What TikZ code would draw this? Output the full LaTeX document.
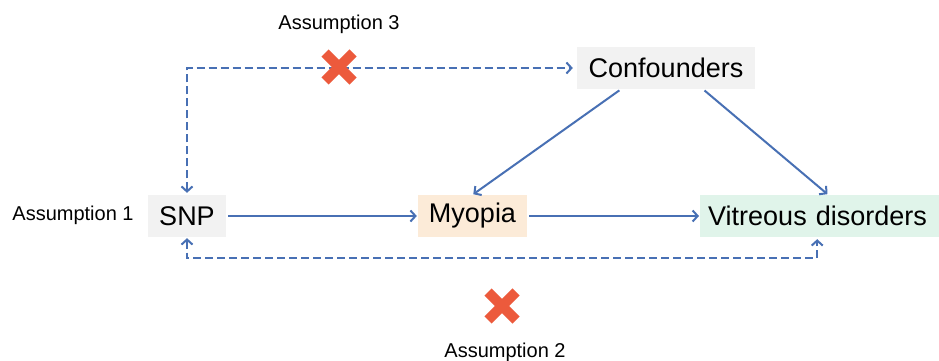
\documentclass[tikz,border=0pt]{standalone}
\usepackage{fontspec}
\setmainfont{Liberation Sans}
\usetikzlibrary{arrows.meta}
\definecolor{lineblue}{RGB}{72,112,180}
\definecolor{boxgrey}{RGB}{242,242,242}
\definecolor{boxpeach}{RGB}{252,235,216}
\definecolor{boxgreen}{RGB}{224,244,234}
\definecolor{xred}{RGB}{236,90,60}
\tikzset{
  mainbox/.style={minimum height=42pt, inner ysep=0pt, font=\fontsize{27}{32}\selectfont, text=black},
  assum/.style={font=\fontsize{20}{24}\selectfont, text=black, inner sep=0pt},
  conn/.style={draw=lineblue, line width=2pt, -{Straight Barb[length=5pt,width=11pt,line width=2pt]}},
  dconn/.style={draw=lineblue, line width=2pt, dash pattern=on 8pt off 4pt,
     {Straight Barb[length=5pt,width=11pt,line width=2pt]}-{Straight Barb[length=5pt,width=11pt,line width=2pt]}},
  crossx/.style={draw=xred, line width=10pt, line cap=butt}
}
\begin{document}
\begin{tikzpicture}[x=1pt,y=-1pt]
\clip (0,0) rectangle (939,361);
\fill[white] (0,0) rectangle (939,361);
\node[mainbox, fill=boxgrey, minimum width=78pt, inner xsep=0pt] (snp) at (187,216) {SNP};
\node[mainbox, fill=boxpeach, minimum width=109pt, inner xsep=0pt] (myo) at (472.5,216) {Myopia};
\node[mainbox, fill=boxgrey, minimum width=178pt, inner xsep=0pt] (conf) at (666,68) {Confounders};
\node[mainbox, fill=boxgreen, anchor=west, text width=229pt, align=left, inner xsep=8pt] (vit) at (700,216) {Vitreous disorders};

\node[assum] (a3) at (339,24) {Assumption 3};
\node[assum] (a1) at (73,215) {Assumption 1};
\node[assum] (a2) at (505,352) {Assumption 2};

\draw[conn, shorten <=2pt, shorten >=1pt] (snp.east) -- (myo.west);
\draw[conn, shorten <=2pt, shorten >=1pt] (myo.east) -- (vit.west);
\draw[conn, shorten <=2pt, shorten >=1pt] ([xshift=-45pt]conf.south) -- (myo.north);
\draw[conn, shorten <=2pt, shorten >=1pt] ([xshift=37pt]conf.south) -- ([xshift=5.5pt]vit.north);

\draw[dconn, shorten <=2pt, shorten >=4pt] (snp.north) |- (conf.west);
\coordinate (bl) at ([yshift=-21pt]snp.south);
\draw[dconn, shorten <=1pt, shorten >=2pt] (snp.south) -- (bl) -| ([xshift=-5.5pt]vit.south);

\draw[crossx] (339,67) ++(-14,-14) -- ++(28,28);
\draw[crossx] (339,67) ++(-14,14) -- ++(28,-28);
\draw[crossx] (502,306) ++(-14,-14) -- ++(28,28);
\draw[crossx] (502,306) ++(-14,14) -- ++(28,-28);
\end{tikzpicture}
\end{document}
